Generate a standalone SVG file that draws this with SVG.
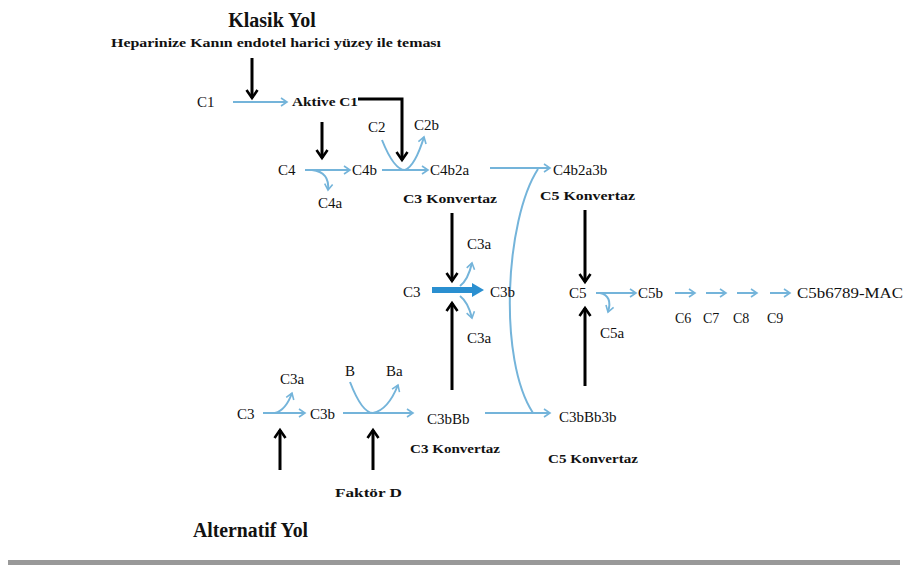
<svg xmlns="http://www.w3.org/2000/svg" width="903" height="565" viewBox="0 0 903 565" font-family="'Liberation Serif', 'DejaVu Serif', serif">
<style>
text{font-family:'Liberation Serif','DejaVu Serif',serif;fill:#111}
.t{font-size:15px}
.b{font-size:13px;font-weight:bold}
.h{font-size:20px;font-weight:bold}
.s{font-size:14px}
.bl{fill:none;stroke:#74b4da;stroke-width:2}
.bk{fill:none;stroke:#000;stroke-width:3}
</style>
<defs>
<marker id="ab" markerWidth="10" markerHeight="10" refX="7" refY="5" orient="auto" markerUnits="userSpaceOnUse">
<path d="M1,1 L7,5 L1,9" fill="none" stroke="#74b4da" stroke-width="1.6"/>
</marker>
<marker id="ak" markerWidth="14" markerHeight="14" refX="10" refY="7" orient="auto" markerUnits="userSpaceOnUse">
<path d="M2,1.5 L10,7 L2,12.5" fill="none" stroke="#000" stroke-width="2.6"/>
</marker>
<marker id="at" markerWidth="14" markerHeight="16" refX="2" refY="8" orient="auto" markerUnits="userSpaceOnUse">
<path d="M0,1 L12,8 L0,15 Z" fill="#2a8fd0"/>
</marker>
</defs>
<rect width="903" height="565" fill="#fff"/>
<g id="titles">
<text class="h" x="272" y="27" text-anchor="middle">Klasik Yol</text>
<text class="b" x="111" y="47" textLength="330" lengthAdjust="spacingAndGlyphs">Heparinize Kanın endotel harici yüzey ile teması</text>
<text class="h" x="193" y="537" textLength="115" lengthAdjust="spacingAndGlyphs">Alternatif Yol</text>
</g>
<g id="connectors">
<path class="bk" d="M252,58 V98" marker-end="url(#ak)"/>
<path class="bl" d="M233,102 H287" marker-end="url(#ab)"/>
<path class="bk" d="M358,99 H402 V160" marker-end="url(#ak)"/>
<path class="bk" d="M322,122 V158" marker-end="url(#ak)"/>
<path class="bl" d="M305,170 H350" marker-end="url(#ab)"/>
<path class="bl" d="M312,170 Q330,172 328,190" marker-end="url(#ab)"/>
<path class="bl" d="M382,170 H428" marker-end="url(#ab)"/>
<path class="bl" d="M382,140 Q394,170 405,170 Q415,166 424,137" marker-end="url(#ab)"/>
<path class="bl" d="M490,168 H550" marker-end="url(#ab)"/>
<path class="bl" d="M538,169 C505,220 498,360 533,413"/>
<path class="bk" d="M585,210 V282" marker-end="url(#ak)"/>
<path class="bk" d="M585,386 V308" marker-end="url(#ak)"/>
<path class="bl" d="M596,293 H636" marker-end="url(#ab)"/>
<path class="bl" d="M600,293 Q613,296 608,312" marker-end="url(#ab)"/>
<path class="bl" d="M675,293 H695" marker-end="url(#ab)"/>
<path class="bl" d="M706,293 H726" marker-end="url(#ab)"/>
<path class="bl" d="M737,293 H757" marker-end="url(#ab)"/>
<path class="bl" d="M770,293 H790" marker-end="url(#ab)"/>
<path d="M432,290 H474" fill="none" stroke="#2a8fd0" stroke-width="6" marker-end="url(#at)"/>
<path class="bk" d="M452,213 V281" stroke-width="2" marker-end="url(#ak)"/>
<path class="bk" d="M452,390 V303" stroke-width="2" marker-end="url(#ak)"/>
<path class="bl" d="M460,286 Q468,280 472,263" marker-end="url(#ab)"/>
<path class="bl" d="M460,296 Q468,302 472,318" marker-end="url(#ab)"/>
<path class="bl" d="M263,413 H305" marker-end="url(#ab)"/>
<path class="bl" d="M275,413 Q286,410 292,393" marker-end="url(#ab)"/>
<path class="bl" d="M343,413 H413" marker-end="url(#ab)"/>
<path class="bl" d="M350,382 Q362,413 373,413 Q388,410 398,385" marker-end="url(#ab)"/>
<path class="bk" d="M280,470 V430" marker-end="url(#ak)"/>
<path class="bk" d="M373,470 V430" marker-end="url(#ak)"/>
<path class="bl" d="M485,413 H550" marker-end="url(#ab)"/>
</g>
<g id="n-c1"><text class="t" x="197" y="107">C1</text></g>
<g id="n-aktive"><text class="b" x="292" y="106" textLength="66" lengthAdjust="spacingAndGlyphs">Aktive C1</text></g>
<g id="n-c2"><text class="t" x="368" y="132">C2</text></g>
<g id="n-c2b"><text class="t" x="414" y="130">C2b</text></g>
<g id="n-c4"><text class="t" x="278" y="175">C4</text></g>
<g id="n-c4a"><text class="t" x="318" y="208">C4a</text></g>
<g id="n-c4b"><text class="t" x="352" y="175">C4b</text></g>
<g id="n-c4b2a"><text class="t" x="430" y="175">C4b2a</text></g>
<g id="n-c3konv1"><text class="b" x="403" y="203" textLength="94" lengthAdjust="spacingAndGlyphs">C3 Konvertaz</text></g>
<g id="n-c4b2a3b"><text class="t" x="553" y="175">C4b2a3b</text></g>
<g id="n-c5konv1"><text class="b" x="540" y="200" textLength="95" lengthAdjust="spacingAndGlyphs">C5 Konvertaz</text></g>
<g id="n-c3"><text class="t" x="403" y="297">C3</text></g>
<g id="n-c3b"><text class="t" x="490" y="297">C3b</text></g>
<g id="n-c3a1"><text class="t" x="467" y="249">C3a</text></g>
<g id="n-c3a2"><text class="t" x="467" y="343">C3a</text></g>
<g id="n-c5"><text class="t" x="569" y="298">C5</text></g>
<g id="n-c5a"><text class="t" x="600" y="338">C5a</text></g>
<g id="n-c5b"><text class="t" x="638" y="298">C5b</text></g>
<g id="n-c6"><text class="s" x="675" y="323">C6</text></g>
<g id="n-c7"><text class="s" x="703" y="323">C7</text></g>
<g id="n-c8"><text class="s" x="733" y="323">C8</text></g>
<g id="n-c9"><text class="s" x="767" y="323">C9</text></g>
<g id="n-mac"><text class="t" x="797" y="298" textLength="106" lengthAdjust="spacingAndGlyphs">C5b6789-MAC</text></g>
<g id="n-c3alt"><text class="t" x="237" y="419">C3</text></g>
<g id="n-c3aalt"><text class="t" x="280" y="384">C3a</text></g>
<g id="n-c3balt"><text class="t" x="310" y="419">C3b</text></g>
<g id="n-b"><text class="t" x="345" y="376">B</text></g>
<g id="n-ba"><text class="t" x="386" y="376">Ba</text></g>
<g id="n-faktord"><text class="b" x="335" y="497" textLength="67" lengthAdjust="spacingAndGlyphs">Faktör D</text></g>
<g id="n-c3bbb"><text class="t" x="427" y="424">C3bBb</text></g>
<g id="n-c3konv2"><text class="b" x="410" y="453" textLength="90" lengthAdjust="spacingAndGlyphs">C3 Konvertaz</text></g>
<g id="n-c3bbb3b"><text class="t" x="559" y="422">C3bBb3b</text></g>
<g id="n-c5konv2"><text class="b" x="548" y="463" textLength="90" lengthAdjust="spacingAndGlyphs">C5 Konvertaz</text></g>
<rect x="8" y="560" width="892" height="5" fill="#999"/>
</svg>
